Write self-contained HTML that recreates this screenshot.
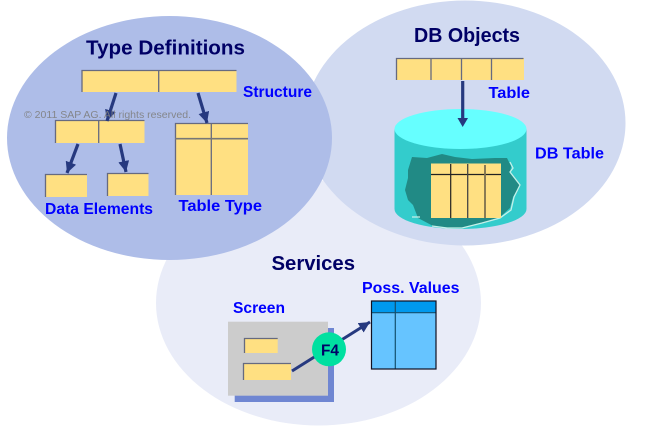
<!DOCTYPE html>
<html><head><meta charset="utf-8"><style>
html,body{margin:0;padding:0;background:#fff;width:664px;height:431px;overflow:hidden}
svg{display:block}
text{font-family:"Liberation Sans",sans-serif;font-weight:bold}
.h{font-size:20px;fill:#000066}
.l{font-size:16px;fill:#0000ff}
.box{fill:#ffe082}
.ln{stroke:#666a80;stroke-width:1.300;fill:none}
</style></head><body>
<svg width="664" height="431" viewBox="0 0 664 431" xmlns="http://www.w3.org/2000/svg">
<defs>
<marker id="a" markerUnits="userSpaceOnUse" markerWidth="13" markerHeight="12" refX="11" refY="5.500" orient="auto"><path d="M0 0L11 5.500L0 11Z" fill="#26397f"/></marker>
</defs>
<ellipse cx="318.500" cy="303" rx="162.500" ry="122.500" fill="#e9ecf8"/>
<ellipse cx="465" cy="123" rx="160.500" ry="122.500" fill="#d1daf1"/>
<ellipse cx="169.500" cy="138" rx="162.500" ry="122" fill="#aebde8"/>

<text class="h" x="86" y="54.500" textLength="159" lengthAdjust="spacingAndGlyphs">Type Definitions</text>
<text class="h" x="414" y="42" textLength="106" lengthAdjust="spacingAndGlyphs">DB Objects</text>
<text class="h" x="271.500" y="270" textLength="83.500" lengthAdjust="spacingAndGlyphs">Services</text>

<!-- Type definitions -->
<g>
<rect class="box" x="82" y="70" width="154.500" height="22"/>
<path class="ln" d="M82 92V70.500H236.500M158.700 70V92"/>
<rect class="box" x="55" y="120" width="89.500" height="23"/>
<path class="ln" d="M55.500 143V120.500H144.500M98.700 120V143"/>
<rect class="box" x="45" y="174" width="42" height="23"/>
<path class="ln" d="M45.500 197V174.500H87"/>
<rect class="box" x="107" y="173" width="41.500" height="23"/>
<path class="ln" d="M107.500 196V173.500H148.500"/>
<rect class="box" x="175" y="123" width="73" height="72"/>
<path class="ln" d="M175.500 195V123.500H248M211.300 123V195"/>
<path d="M175 138.700H248" stroke="#777" stroke-width="1.700"/>
</g>
<g stroke="#26397f" stroke-width="3.200" fill="none">
<path d="M116 93L107 121" marker-end="url(#a)"/>
<path d="M198 93L207 123" marker-end="url(#a)"/>
<path d="M78 144L67 173" marker-end="url(#a)"/>
<path d="M120 144L126 172" marker-end="url(#a)"/>
</g>
<text class="l" x="243" y="97" textLength="69" lengthAdjust="spacingAndGlyphs">Structure</text>
<text class="l" x="45" y="214" textLength="108" lengthAdjust="spacingAndGlyphs">Data Elements</text>
<text class="l" x="178.500" y="211" textLength="83.500" lengthAdjust="spacingAndGlyphs">Table Type</text>

<!-- DB -->
<rect class="box" x="396" y="58" width="128" height="22"/>
<path class="ln" d="M396.500 80V58.500H523.500M431 58V80M461.500 58V80M491.500 58V80"/>
<path d="M394.500 129V209A66 20 0 0 0 526.500 209V129Z" fill="#33cccc"/>
<ellipse cx="460.500" cy="129" rx="66" ry="20" fill="#66ffff"/>
<path d="M412 157L427 158L442 154L455 157L472 159L495 158L507 158L511 166L510 173L520 185L513 197L510 208L500 217L482 223L462 228L435 227L418 218L413 205L408 200L405 190L408 178L408 170Z" fill="#218a85"/>
<path d="M510 162L513 168L510 172L520 185L514 197L511 210L500 218L482 223L462 228L447 228L432 226M420 217L412 217" fill="none" stroke="#c4f0e8" stroke-width="1.300"/>
<rect class="box" x="431" y="163.500" width="70" height="54.500"/>
<path d="M431 174.500H501M450.700 164V218" stroke="#222" stroke-width="1.200"/>
<path d="M467.700 164V218" stroke="#444" stroke-width="1.300"/>
<path d="M485 165V218" stroke="#7d7150" stroke-width="1.800"/>
<path d="M462.700 81V122" stroke="#26397f" stroke-width="3.200" fill="none"/>
<path d="M457.500 118H468L462.700 127Z" fill="#26397f"/>
<text class="l" x="488.500" y="98" textLength="41.500" lengthAdjust="spacingAndGlyphs">Table</text>
<text class="l" x="535" y="158.500" textLength="69" lengthAdjust="spacingAndGlyphs">DB Table</text>

<!-- Services -->
<rect x="234.700" y="328" width="99.300" height="74" fill="#6f86d2"/>
<rect x="228" y="321.700" width="100" height="74" fill="#cccccc"/>
<rect class="box" x="244" y="338" width="33.700" height="15"/>
<path class="ln" d="M244.500 353V338.500H277.700"/>
<rect class="box" x="243" y="363" width="48" height="17"/>
<path class="ln" d="M243.500 380V363.500H291"/>
<path d="M292 371L370 322" stroke="#26397f" stroke-width="3" fill="none" marker-end="url(#a)"/>
<circle cx="329" cy="349.300" r="17" fill="#00e0a0"/>
<text x="321" y="355.500" style="font-size:16px" fill="#000066" textLength="18" lengthAdjust="spacingAndGlyphs">F4</text>
<rect x="371" y="301" width="65" height="68" fill="#66c4ff"/>
<rect x="371" y="301" width="65" height="11.500" fill="#0099ee"/>
<path d="M371 312.700H436M395.300 301V369" stroke="#14506e" stroke-width="1.200"/>
<rect x="371.500" y="301" width="64.500" height="68" fill="none" stroke="#112" stroke-width="1.200"/>
<text class="l" x="233" y="313" textLength="52" lengthAdjust="spacingAndGlyphs">Screen</text>
<text class="l" x="362" y="293" textLength="97.500" lengthAdjust="spacingAndGlyphs">Poss. Values</text>

<text x="24" y="118" style="font-size:10.400px;font-weight:normal" fill="#808080" fill-opacity=".9" textLength="167" lengthAdjust="spacingAndGlyphs">© 2011 SAP AG. All rights reserved.</text>
</svg>
</body></html>
